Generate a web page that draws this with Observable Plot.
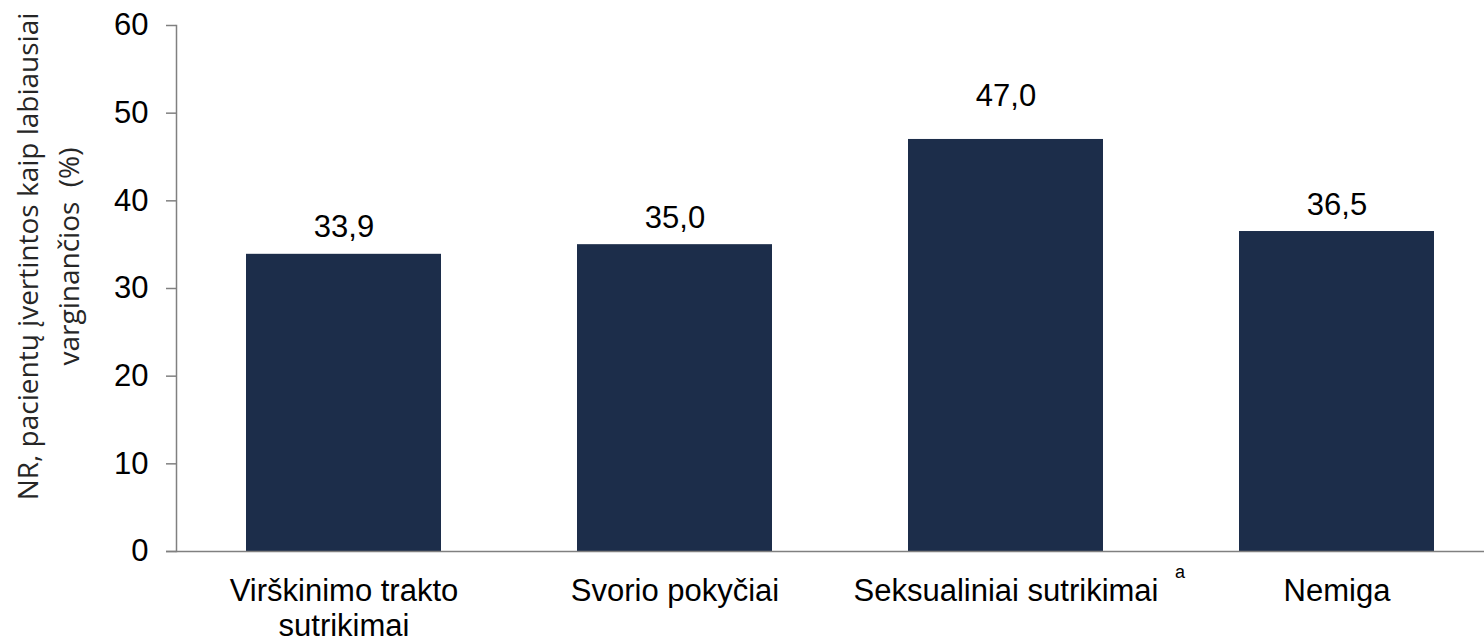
<!DOCTYPE html>
<html>
<head>
<meta charset="utf-8">
<script src="https://cdn.jsdelivr.net/npm/d3@7"></script>
<script src="https://cdn.jsdelivr.net/npm/@observablehq/plot@0.6"></script>
<style>
  html, body { margin: 0; padding: 0; background: #fff; }
  #chart svg { display: block; }
</style>
</head>
<body>
<div id="chart"></div>
<script>
const categories = ["Virškinimo trakto\nsutrikimai", "Svorio pokyčiai", "Seksualiniai sutrikimai", "Nemiga"];
const values = [33.9, 35.0, 47.0, 36.5];
const valueLabels = ["33,9", "35,0", "47,0", "36,5"];
const footnotes = ["", "", "a", ""];
const yTicks = [0, 10, 20, 30, 40, 50, 60];
const yTitle = "NR, pacientų įvertintos kaip labiausiai\nvarginančios  (%)";

const data = categories.map((c, i) => ({cat: c, value: values[i], label: valueLabels[i], note: footnotes[i]}));

const font = "'Liberation Sans', Arial, sans-serif";
const barColor = "#1c2d4a";
const axisGray = "#808080";

const chart = Plot.plot({
  width: 1484,
  height: 640,
  marginTop: 25,
  marginBottom: 89,
  marginLeft: 176,
  marginRight: 0,
  style: {fontFamily: font, background: "#fff", color: "#000"},
  x: {domain: categories, paddingInner: 0.41, paddingOuter: 0.175, align: 0.586, axis: null},
  y: {domain: [0, 60], axis: null},
  marks: [
    Plot.barY(data, {x: "cat", y: "value", fill: barColor}),
    Plot.frame({anchor: "left", stroke: axisGray, strokeWidth: 1.5}),
    Plot.ruleY([0], {stroke: axisGray, strokeWidth: 1.5, insetLeft: -10}),
    Plot.axisY({ticks: yTicks, tickSize: 10, tickPadding: 18, fontSize: 31, stroke: axisGray, fill: "#000", label: null, tickFormat: d => String(d), strokeWidth: 1.5}),
    Plot.text(data.filter(d => d.value < 45), {x: "cat", y: "value", text: "label", lineAnchor: "bottom", dy: -17, fontSize: 31, fill: "#000"}),
    Plot.text(data.filter(d => d.value >= 45), {x: "cat", y: "value", text: "label", lineAnchor: "bottom", dy: -33, fontSize: 31, fill: "#000"}),
    Plot.text(data, {x: "cat", text: "cat", frameAnchor: "bottom", lineAnchor: "top", lineHeight: 1.13, dy: 25, fontSize: 31, fill: "#000"}),
    Plot.text(data.filter(d => d.note), {x: "cat", text: "note", frameAnchor: "bottom", textAnchor: "start", lineAnchor: "bottom", dx: 169, dy: 26, fontSize: 18, fill: "#000"}),
    Plot.text([yTitle], {text: d => d, frameAnchor: "left", rotate: -90, textAnchor: "middle", lineAnchor: "bottom", lineHeight: 1.43, dx: -98, dy: -32, fontSize: 28, fontFamily: "'Open Sans', sans-serif", fill: "#262626"})
  ]
});

document.getElementById("chart").appendChild(chart);
</script>
</body>
</html>
